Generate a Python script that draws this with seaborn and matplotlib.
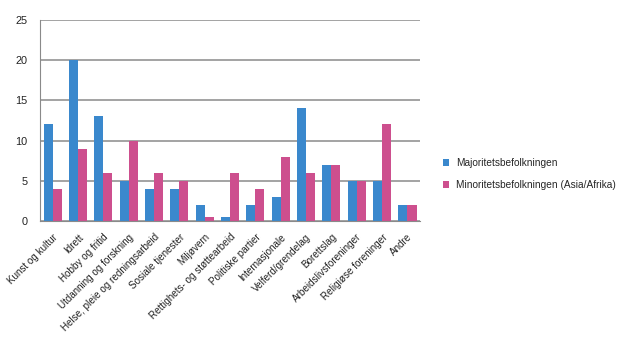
import matplotlib
matplotlib.use("Agg")
import matplotlib.pyplot as plt
import seaborn as sns
import pandas as pd
import numpy as np
from matplotlib.patches import Patch

categories = ["Kunst og kultur", "Idrett", "Hobby og fritid", "Utdanning og forskning",
              "Helse, pleie og redningsarbeid", "Sosiale tjenester", "Miljøvern",
              "Rettighets- og støttearbeid", "Politiske partier", "Internasjonale",
              "Velferd/grendelag", "Borettslag", "Arbeidslivsforeninger",
              "Religiøse foreninger", "Andre"]
majoritet = [12, 20, 13, 5, 4, 4, 2, 0.5, 2, 3, 14, 7, 5, 5, 2]
minoritet = [4, 9, 6, 10, 6, 5, 0.5, 6, 4, 8, 6, 7, 5, 12, 2]
series = ["Majoritetsbefolkningen", "Minoritetsbefolkningen (Asia/Afrika)"]
colors = ["#3a88cd", "#cd4f8e"]

df = pd.DataFrame({
    "kategori": categories * 2,
    "verdi": majoritet + minoritet,
    "gruppe": [series[0]] * len(categories) + [series[1]] * len(categories),
})

sns.set_style("white")
plt.rcParams["font.family"] = ["Liberation Sans", "DejaVu Sans"]

fig = plt.figure(figsize=(6.2, 3.49), dpi=100)
ax = fig.add_axes([0.0645, 0.367, 0.613, 0.576])
sns.barplot(data=df, x="kategori", y="verdi", hue="gruppe", palette=colors,
            width=0.72, gap=0, ax=ax, legend=False, saturation=1,
            edgecolor="none")

ax.set_ylim(0, 25)
ax.set_xlim(-0.5, len(categories) - 0.5)
ax.set_yticks([0, 5, 10, 15, 20, 25])
ax.yaxis.grid(True, color="#8a8a8a", linewidth=1.1)
ax.set_axisbelow(True)
ax.set_xlabel("")
ax.set_ylabel("")
for s in ["top", "right"]:
    ax.spines[s].set_visible(False)
ax.spines["left"].set_color("#8a8a8a")
ax.spines["bottom"].set_color("#8a8a8a")
ax.tick_params(axis="y", length=0, labelsize=7.8, colors="#222222", pad=9)
ax.set_xticks(range(len(categories)))
ax.set_xticklabels(categories, rotation=45, ha="right", va="top",
                   rotation_mode="anchor", fontsize=7.1, color="#222222")
ax.tick_params(axis="x", which="major", length=0, pad=8)
ax.set_xticks(np.arange(-0.5, len(categories) + 0.5, 1), minor=True)
ax.tick_params(axis="x", which="minor", length=3, color="#8a8a8a", width=1)

handles = [Patch(facecolor=c, edgecolor="none") for c in colors]
fig.legend(handles, series, loc="center left", bbox_to_anchor=(0.703, 0.501),
           frameon=False, fontsize=7.3, handlelength=0.6, handleheight=0.6,
           handletextpad=0.7, labelspacing=1.2, borderpad=0.2)

fig.savefig("out.png", dpi=100)
